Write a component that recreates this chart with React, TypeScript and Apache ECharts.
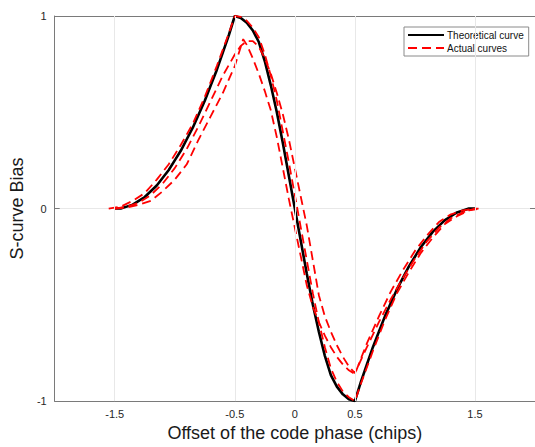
import React, { useEffect, useRef } from "react";
import * as echarts from "echarts";

const xTicks = [-1.5, -0.5, 0, 0.5, 1.5];
const yTicks = [-1, 0, 1];

const theoX = [-1.5, -1.45, -1.4, -1.35, -1.3, -1.25, -1.2, -1.15, -1.1, -1.05, -1, -0.95, -0.9, -0.85, -0.8, -0.75, -0.7, -0.65, -0.6, -0.55, -0.5, -0.45, -0.4, -0.35, -0.3, -0.25, -0.2, -0.15, -0.1, -0.05, 0, 0.05, 0.1, 0.15, 0.2, 0.25, 0.3, 0.35, 0.4, 0.45, 0.5, 0.55, 0.6, 0.65, 0.7, 0.75, 0.8, 0.85, 0.9, 0.95, 1, 1.05, 1.1, 1.15, 1.2, 1.25, 1.3, 1.35, 1.4, 1.45, 1.5];
const theoY = [0, 0.0, 0.01, 0.02, 0.04, 0.06, 0.09, 0.12, 0.16, 0.2, 0.25, 0.3, 0.36, 0.42, 0.49, 0.56, 0.64, 0.72, 0.81, 0.9, 1.0, 0.99, 0.965, 0.925, 0.865, 0.765, 0.64, 0.5, 0.34, 0.17, 0, -0.17, -0.34, -0.5, -0.64, -0.765, -0.865, -0.925, -0.965, -0.99, -1.0, -0.9, -0.81, -0.72, -0.64, -0.56, -0.49, -0.42, -0.36, -0.3, -0.25, -0.2, -0.16, -0.12, -0.09, -0.06, -0.04, -0.02, -0.01, 0.0, 0];

const act1X = [-1.55, -1.45, -1.35, -1.25, -1.15, -1.05, -0.95, -0.85, -0.75, -0.65, -0.55, -0.5, -0.45, -0.4, -0.35, -0.3, -0.25, -0.2, -0.15, -0.1, -0.05, 0, 0.05, 0.1, 0.15, 0.2, 0.25, 0.3, 0.35, 0.4, 0.45, 0.5, 0.55, 0.65, 0.75, 0.85, 0.95, 1.05, 1.15, 1.25, 1.35, 1.45, 1.55];
const act1Y = [0, 0.01, 0.04, 0.08, 0.15, 0.23, 0.33, 0.44, 0.58, 0.74, 0.91, 1.0, 0.995, 0.975, 0.94, 0.89, 0.8, 0.69, 0.56, 0.4, 0.24, 0.07, -0.1, -0.27, -0.44, -0.59, -0.72, -0.83, -0.9, -0.95, -0.98, -1.0, -0.91, -0.74, -0.58, -0.44, -0.33, -0.23, -0.15, -0.08, -0.04, -0.01, 0];

const act2X = [-1.5, -1.4, -1.3, -1.2, -1.1, -1, -0.9, -0.8, -0.7, -0.6, -0.5, -0.43, -0.4, -0.35, -0.3, -0.25, -0.2, -0.15, -0.1, -0.05, 0, 0.05, 0.1, 0.15, 0.2, 0.25, 0.3, 0.35, 0.4, 0.45, 0.5, 0.6, 0.7, 0.8, 0.9, 1, 1.1, 1.2, 1.3, 1.4, 1.5];
const act2Y = [0, 0.005, 0.02, 0.04, 0.09, 0.15, 0.23, 0.36, 0.48, 0.6, 0.74, 0.88, 0.85, 0.78, 0.7, 0.61, 0.51, 0.37, 0.21, 0.05, -0.1, -0.25, -0.4, -0.51, -0.59, -0.66, -0.72, -0.77, -0.81, -0.84, -0.86, -0.7, -0.56, -0.43, -0.32, -0.22, -0.14, -0.07, -0.03, -0.01, 0];

const act3X = [-1.5, -1.4, -1.3, -1.2, -1.1, -1, -0.9, -0.8, -0.7, -0.6, -0.5, -0.45, -0.4, -0.35, -0.3, -0.25, -0.2, -0.15, -0.1, -0.05, 0, 0.05, 0.1, 0.15, 0.2, 0.25, 0.3, 0.35, 0.4, 0.45, 0.5, 0.6, 0.7, 0.8, 0.9, 1, 1.1, 1.2, 1.3, 1.4, 1.5, 1.57];
const act3Y = [0, 0.01, 0.03, 0.07, 0.13, 0.21, 0.31, 0.43, 0.56, 0.69, 0.8, 0.845, 0.87, 0.87, 0.84, 0.78, 0.7, 0.6, 0.49, 0.36, 0.21, 0.06, -0.09, -0.27, -0.45, -0.56, -0.64, -0.71, -0.77, -0.82, -0.855, -0.72, -0.59, -0.47, -0.36, -0.26, -0.17, -0.1, -0.05, -0.02, 0, 0];

const pairs = (xs: number[], ys: number[]) => xs.map((x, i) => [x, ys[i]]);

const FONT = "'Liberation Sans', Arial, Helvetica, sans-serif";
const AXIS_COLOR = "#7a7a7a";
const TEXT_COLOR = "#262626";
const GRID_COLOR = "#e8e8e8";

export default function App() {
  const ref = useRef<HTMLDivElement>(null);
  useEffect(() => {
    if (!ref.current) return;
    const chart = echarts.init(ref.current, undefined, { renderer: "svg" });
    const dashed = {
      color: "#ff0000",
      width: 1.8,
      type: [9, 5] as any,
    };
    const actual = (xs: number[], ys: number[]) => ({
      name: "Actual curves",
      type: "line",
      data: pairs(xs, ys),
      showSymbol: false,
      symbol: "none",
      smooth: false,
      z: 4,
      lineStyle: dashed,
      itemStyle: { color: "#ff0000" },
    });
    const axisBase = {
      axisLine: { show: true, onZero: false, lineStyle: { color: AXIS_COLOR, width: 1 } },
    };
    chart.setOption({
      animation: false,
      backgroundColor: "#ffffff",
      textStyle: { fontFamily: FONT },
      grid: { left: 44, top: 16, width: 493, height: 391, containLabel: false },
      legend: {
        left: 404,
        top: 27,
        orient: "vertical",
        data: ["Theoretical curve", "Actual curves"],
        backgroundColor: "#ffffff",
        borderColor: "#8a8a8a",
        borderWidth: 1,
        padding: [3, 5, 3, 3],
        itemGap: 3,
        itemWidth: 36,
        itemHeight: 10,
        itemStyle: { opacity: 0, borderWidth: 0 },
        textStyle: { fontSize: 10, color: "#111", fontFamily: FONT, padding: [0, 0, 0, -2] },
      },
      xAxis: [
        {
          type: "value",
          min: -2,
          max: 2,
          interval: 0.5,
          ...axisBase,
          axisTick: { show: true, inside: true, length: 5, customValues: xTicks, lineStyle: { color: AXIS_COLOR } },
          axisLabel: {
            customValues: xTicks,
            formatter: (v: number) => String(v),
            color: TEXT_COLOR,
            fontSize: 11,
            margin: 7,
            fontFamily: FONT,
          },
          splitLine: { show: false },
          name: "Offset of the code phase (chips)",
          nameLocation: "middle",
          nameGap: 20,
          nameTextStyle: { fontSize: 18, color: "#1a1a1a", fontFamily: FONT },
        },
        {
          type: "value",
          position: "top",
          min: -2,
          max: 2,
          interval: 0.5,
          ...axisBase,
          axisTick: { show: true, inside: true, length: 5, customValues: xTicks, lineStyle: { color: AXIS_COLOR } },
          axisLabel: { show: false },
          splitLine: { show: false },
        },
      ],
      yAxis: [
        {
          type: "value",
          min: -1,
          max: 1,
          interval: 1,
          ...axisBase,
          axisTick: { show: true, inside: true, length: 5, customValues: yTicks, lineStyle: { color: AXIS_COLOR } },
          axisLabel: { color: TEXT_COLOR, fontSize: 11, margin: 8, fontFamily: FONT },
          splitLine: { show: true, lineStyle: { color: GRID_COLOR, width: 1 } },
          name: "S-curve Bias",
          nameLocation: "middle",
          nameGap: 18,
          nameTextStyle: { fontSize: 18, color: "#1a1a1a", fontFamily: FONT },
        },
        {
          type: "value",
          position: "right",
          min: -1,
          max: 1,
          interval: 1,
          ...axisBase,
          axisTick: { show: true, inside: true, length: 5, customValues: yTicks, lineStyle: { color: AXIS_COLOR } },
          axisLabel: { show: false },
          splitLine: { show: false },
        },
      ],
      series: [
        {
          name: "grid",
          type: "line",
          data: [[0, 0]],
          showSymbol: false,
          symbol: "none",
          lineStyle: { opacity: 0 },
          z: 1,
          silent: true,
          markLine: {
            silent: true,
            symbol: "none",
            label: { show: false },
            lineStyle: { color: GRID_COLOR, width: 1, type: "solid" },
            data: xTicks.map((v) => ({ xAxis: v })),
          },
        },
        {
          name: "Theoretical curve",
          type: "line",
          data: pairs(theoX, theoY),
          showSymbol: false,
          symbol: "none",
          smooth: false,
          z: 3,
          lineStyle: { color: "#000000", width: 2.6 },
          itemStyle: { color: "#000000" },
        },
        actual(act1X, act1Y),
        actual(act2X, act2Y),
        actual(act3X, act3Y),
      ],
    });
    return () => chart.dispose();
  }, []);
  return (
    <div
      ref={ref}
      style={{ position: "fixed", left: 0, top: 0, width: 535, height: 447, background: "#fff" }}
    />
  );
}
